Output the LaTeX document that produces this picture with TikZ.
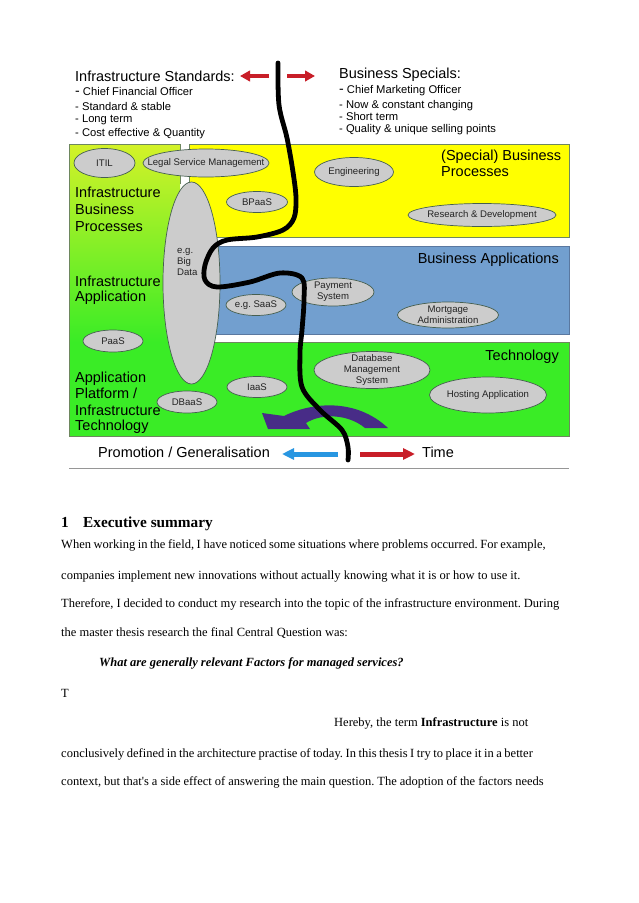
\documentclass[tikz,border=0pt]{standalone}
\usepackage{fontspec}
\setmainfont{Liberation Serif}
\newfontfamily\dfont{Liberation Sans}
\usetikzlibrary{shapes.geometric,arrows.meta}
\definecolor{yel}{RGB}{255,255,0}
\definecolor{blu}{RGB}{114,159,207}
\definecolor{grn}{RGB}{58,236,38}
\definecolor{grntop}{RGB}{212,242,40}
\definecolor{boxedge}{RGB}{110,135,95}
\definecolor{bluedge}{RGB}{90,120,160}
\definecolor{ovalfill}{RGB}{204,204,204}
\definecolor{ovalline}{RGB}{70,95,80}
\definecolor{ovaltext}{RGB}{35,35,35}
\definecolor{arrred}{RGB}{200,30,40}
\definecolor{arrblue}{RGB}{40,150,225}
\definecolor{purp}{RGB}{72,44,135}
\definecolor{rule}{RGB}{150,150,150}
\newcommand{\wsp}[1]{\spaceskip=#1\relax}
\frenchspacing
\tikzset{
  hdr/.style={anchor=base west, inner sep=0pt, font=\dfont\fontsize{14.5}{16}\selectfont},
  lst/.style={anchor=base west, inner sep=0pt, font=\dfont\fontsize{11.2}{13}\selectfont},
  oval/.style={ellipse, draw=ovalline, fill=ovalfill, line width=0.7pt, inner sep=0pt},
  ovtext/.style={inner sep=0pt, align=center, text=ovaltext, font=\dfont\fontsize{9.6}{11}\selectfont},
  body/.style={anchor=base west, inner sep=0pt, font=\fontsize{12.5}{14}\selectfont\frenchspacing},
  redarrow/.style={line width=4.3pt, draw=arrred, -{Triangle[length=10pt,width=10.5pt]}},
  botarrow/.style={line width=5pt, -{Triangle[length=12pt,width=11pt]}},
}
\begin{document}
\begin{tikzpicture}[x=1pt,y=-1pt]
\fill[white] (0,0) rectangle (638,903);
\useasboundingbox (0,0) rectangle (638,903);

% ---- boxes ----
\shade[top color=grntop, bottom color=grn] (69,144) -- (180,144) -- (180,200) -- (195,200) -- (195,342) -- (69,342) -- cycle;
\fill[grn] (69,342) rectangle (569,436);
\draw[boxedge, line width=0.7pt] (180,184) -- (180,144) -- (69,144) -- (69,436) -- (569,436) -- (569,342) -- (214,342);
\filldraw[fill=yel, draw=boxedge, line width=0.7pt] (189,144) rectangle (569,237);
\filldraw[fill=blu, draw=bluedge, line width=0.7pt] (205,246) rectangle (569,334);

% ---- headers ----
\node[hdr] (istd) at (75,81) {Infrastructure Standards:};
\node[lst] (i1) at (75,95.7) {{\fontsize{14}{14}\selectfont -} Chief Financial Officer};
\node[lst] (i2) at (75,110) {- Standard \& stable};
\node[lst] (i3) at (75,122) {- Long term};
\node[lst] (i4) at (75,136) {- Cost effective \& Quantity};
\node[hdr] (bspec) at (339,78) {Business Specials:};
\node[lst] (b1) at (339,93.3) {{\fontsize{14}{14}\selectfont -} Chief Marketing Officer};
\node[lst] (b2) at (339,108.3) {- Now \& constant changing};
\node[lst] (b3) at (339,120) {- Short term};
\node[lst] (b4) at (339,132.7) {- Quality \& unique selling points};

\coordinate (ral1) at (269,76); \coordinate (ral2) at (240,76);
\coordinate (rar1) at (287,76); \coordinate (rar2) at (315,76);
\draw[redarrow] (ral1) -- (ral2);
\draw[redarrow] (rar1) -- (rar2);

% ---- box titles ----
\node[hdr] (sbp1) at (441,160) {(Special) Business};
\node[hdr] (sbp2) at (441,176.7) {Processes};
\node[hdr] (ibp1) at (75,197.7) {Infrastructure};
\node[hdr] (ibp2) at (75,214.3) {Business};
\node[hdr] (ibp3) at (75,231) {Processes};
\node[hdr, anchor=base east] (bapp) at (559,263.3) {Business Applications};
\node[hdr] (ia1) at (75,286.7) {Infrastructure};
\node[hdr] (ia2) at (75,301.7) {Application};
\node[hdr, anchor=base east] (tech) at (559,360) {Technology};
\node[hdr] (ap1) at (75,382.3) {Application};
\node[hdr] (ap2) at (75,398.3) {Platform /};
\node[hdr] (ap3) at (75,415) {Infrastructure};
\node[hdr] (ap4) at (75,430.7) {Technology};

% ---- ovals ----
\node[oval, minimum width=57pt, minimum height=202pt] (bigdata) at (191.5,283) {};
\node[ovtext, align=left, anchor=base west] (bdt) at (177,275) {e.g.\\Big\\Data};
\node[oval, minimum width=61pt, minimum height=29pt, label={[ovtext]center:ITIL}] (itil) at (104.5,163) {};
\node[oval, minimum width=126pt, minimum height=28pt, label={[ovtext]center:Legal Service Management}] (lsm) at (206,163) {};
\node[oval, minimum width=79pt, minimum height=29pt, label={[ovtext]center:Engineering}] (eng) at (354,172) {};
\node[oval, minimum width=61pt, minimum height=21pt, label={[ovtext]center:BPaaS}] (bpaas) at (257,202) {};
\node[oval, minimum width=148pt, minimum height=23pt, label={[ovtext]center:Research \& Development}] (rnd) at (482,215) {};
\node[oval, minimum width=82pt, minimum height=28pt, label={[ovtext]center:Payment\\System}] (pay) at (333,292) {};
\node[oval, minimum width=60pt, minimum height=21pt, label={[ovtext]center:e.g. SaaS}] (saas) at (256,305) {};
\node[oval, minimum width=101pt, minimum height=26pt, label={[ovtext]center:Mortgage\\Administration}] (mort) at (448,315) {};
\node[oval, minimum width=60pt, minimum height=22pt, label={[ovtext]center:PaaS}] (paas) at (113,341) {};
\node[oval, minimum width=116pt, minimum height=37pt, label={[ovtext]center:Database\\Management\\System}] (dbms) at (372,370) {};
\node[oval, minimum width=60pt, minimum height=21pt, label={[ovtext]center:IaaS}] (iaas) at (257,387) {};
\node[oval, minimum width=60pt, minimum height=22pt, label={[ovtext]center:DBaaS}] (dbaas) at (187,402) {};
\node[oval, minimum width=117pt, minimum height=36pt, label={[ovtext]center:Hosting Application}] (host) at (488,395) {};

% ---- purple curved arrow ----
\fill[purp] (262,413) -- (284,416) .. controls (312,402) and (356,398) .. (388,428) -- (365,428) .. controls (348,414) and (322,413) .. (306,423) -- (310,429) -- (268,429) -- cycle;

% ---- bottom row ----
\node[hdr] (promo) at (98,457.7) {Promotion / Generalisation};
\node[hdr] (time) at (422,457.7) {Time};
\coordinate (bl1) at (338,454); \coordinate (bl2) at (282,454);
\coordinate (br1) at (360,454); \coordinate (br2) at (415,454);
\draw[botarrow, draw=arrblue] (bl1) -- (bl2);
\draw[botarrow, draw=arrred] (br1) -- (br2);
\coordinate (ru1) at (69,468.3); \coordinate (ru2) at (569,468.3);
\draw[rule, line width=1.3pt] (ru1) -- (ru2);

% ---- black freehand line ----
\draw[line width=4.8pt, line cap=round, line join=round] plot[smooth, tension=0.55] coordinates {
 (278,63) (279,105) (287,138) (293,172) (296,198) (294,218) (283,230) (257,237) (227,240) (213,248)
 (205,265) (205,280) (217,287) (250,282) (280,273) (302,278) (304,300) (302,330) (300,353) (302,387)
 (320,410) (342,430) (348,447) (348,460)};

% ---- body text ----
\node[body, font=\fontsize{15.3}{16}\selectfont\bfseries] (h1n) at (61,527) {1};
\node[body, font=\fontsize{15.3}{16}\selectfont\bfseries] (h1) at (83,527) {Executive summary};
\node[body] (l1) at (61,548) {\wsp{2.6pt}When working in the field, I have noticed some situations where problems occurred. For example,};
\node[body] (l2) at (61,579) {companies implement new innovations without actually knowing what it is or how to use it.};
\node[body] (l3) at (61,607) {\wsp{2.95pt}Therefore, I decided to conduct my research into the topic of the infrastructure environment. During};
\node[body] (l4) at (61,636) {the master thesis research the final Central Question was:};
\node[body] (l5) at (99,666) {\textbf{\textit{What are generally relevant Factors for managed services?}}};
\node[body] (l6) at (61,697) {T};
\node[body] (l7) at (334,726) {Hereby, the term \textbf{Infrastructure} is not};
\node[body] (l8) at (61,757) {\wsp{2.55pt}conclusively defined in the architecture practise of today. In this thesis I try to place it in a better};
\node[body] (l9) at (61,785) {\wsp{3.0pt}context, but that\textquotesingle s a side effect of answering the main question. The adoption of the factors needs};
\end{tikzpicture}
\end{document}
